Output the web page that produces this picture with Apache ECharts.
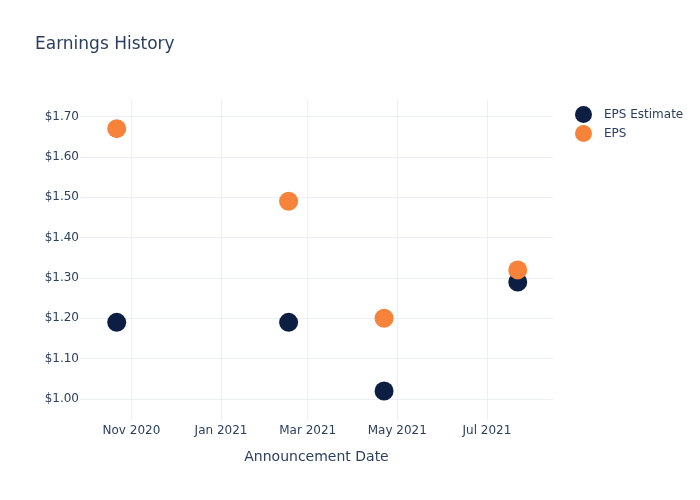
<!DOCTYPE html>
<html>
<head>
<meta charset="utf-8">
<script src="https://cdn.jsdelivr.net/npm/echarts@6/dist/echarts.min.js"></script>
<style>html,body{margin:0;padding:0;background:#fff;}#chart{width:700px;height:500px;}</style>
</head>
<body>
<div id="chart"></div>
<script>
const dates = ['2020-10-22', '2021-02-16', '2021-04-22', '2021-07-22'];
const epsEstimate = [1.19, 1.19, 1.02, 1.29];
const eps = [1.67, 1.49, 1.20, 1.32];
const monthNames = ['Jan','Feb','Mar','Apr','May','Jun','Jul','Aug','Sep','Oct','Nov','Dec'];

const FONT = 'DejaVu Sans';
const TXT = '#2a3f5f';
const GRID = '#EBF0F8';

const chart = echarts.init(document.getElementById('chart'), null, {renderer: 'canvas'});
chart.setOption({
  animation: false,
  backgroundColor: '#fff',
  textStyle: {fontFamily: FONT, color: TXT},
  title: {
    text: 'Earnings History',
    left: 35, top: 36, padding: 0,
    textStyle: {fontFamily: FONT, fontSize: 17, fontWeight: 'normal', color: TXT}
  },
  legend: {
    orient: 'vertical',
    left: 570, top: 101,
    itemWidth: 17, itemHeight: 17, itemGap: 2,
    icon: 'circle',
    textStyle: {fontFamily: FONT, fontSize: 12, color: TXT, padding: [0, 0, 0, 7]},
    data: ['EPS Estimate', 'EPS']
  },
  grid: {left: 80, right: 147, top: 100, bottom: 80, containLabel: false},
  xAxis: {
    type: 'time',
    min: new Date('2020-09-27').getTime(),
    max: new Date('2021-08-15').getTime(),
    splitNumber: 5,
    name: 'Announcement Date',
    nameLocation: 'middle',
    nameGap: 30,
    nameTextStyle: {fontFamily: FONT, fontSize: 14, color: TXT},
    axisLine: {show: false},
    axisTick: {show: false},
    axisLabel: {
      fontFamily: FONT, fontSize: 12, color: TXT, margin: 5,
      showMinLabel: false, showMaxLabel: false,
      formatter: function (v) {
        const d = new Date(v);
        if (d.getDate() !== 1) return '';
        return monthNames[d.getMonth()] + ' ' + d.getFullYear();
      }
    },
    splitLine: {show: true, showMinLine: false, showMaxLine: false, lineStyle: {color: GRID, width: 1}}
  },
  yAxis: {
    type: 'value',
    min: 0.948,
    max: 1.741,
    splitNumber: 8,
    axisLine: {show: false},
    axisTick: {show: false},
    axisLabel: {
      fontFamily: FONT, fontSize: 12, color: TXT, margin: 1,
      showMinLabel: false, showMaxLabel: false,
      formatter: function (v) {
        if (Math.abs(v * 10 - Math.round(v * 10)) > 1e-6) return '';
        return '$' + v.toFixed(2);
      }
    },
    splitLine: {show: true, showMinLine: false, showMaxLine: false, lineStyle: {color: GRID, width: 1}}
  },
  series: [
    {
      name: 'EPS Estimate',
      type: 'scatter',
      symbolSize: 19,
      itemStyle: {color: '#0c1f42', opacity: 1},
      data: dates.map((d, i) => [d, epsEstimate[i]])
    },
    {
      name: 'EPS',
      type: 'scatter',
      symbolSize: 19,
      itemStyle: {color: '#f7823a', opacity: 1},
      data: dates.map((d, i) => [d, eps[i]])
    }
  ]
});
</script>
</body>
</html>
